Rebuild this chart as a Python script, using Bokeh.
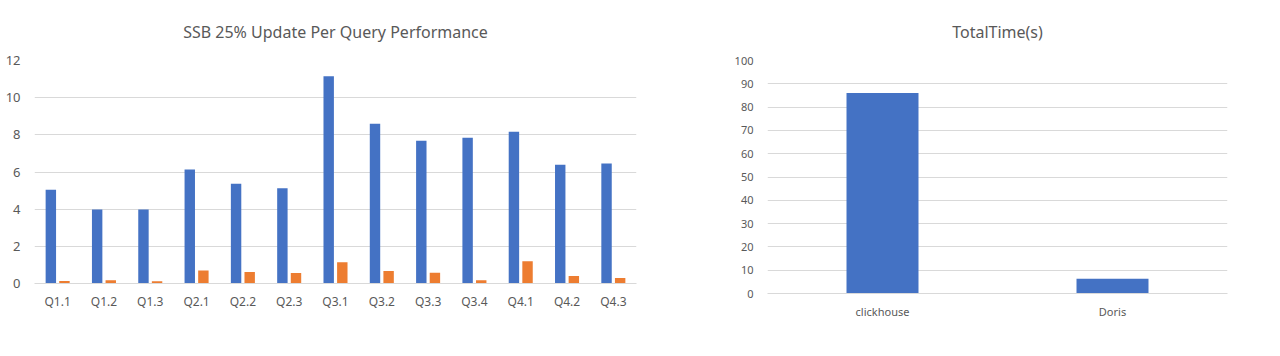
from bokeh.plotting import figure
from bokeh.models import FactorRange, Range1d, Legend, LegendItem, Label
from bokeh.transform import dodge
from bokeh.layouts import row
from bokeh.embed import file_html
from bokeh.resources import INLINE

queries = ["Q1.1", "Q1.2", "Q1.3", "Q2.1", "Q2.2", "Q2.3", "Q3.1", "Q3.2",
           "Q3.3", "Q3.4", "Q4.1", "Q4.2", "Q4.3"]
clickhouse = [5.04, 3.98, 3.98, 6.14, 5.37, 5.13, 11.15, 8.59, 7.68, 7.84, 8.16, 6.39, 6.46]
doris = [0.13, 0.17, 0.12, 0.70, 0.62, 0.57, 1.15, 0.67, 0.58, 0.18, 1.20, 0.41, 0.29]

total_systems = ["clickhouse", "Doris"]
total_time = [86.0, 6.3]

BLUE = "#4472C4"
ORANGE = "#ED7D31"
GRID = "#D9D9D9"
TXT = "#595959"
FONT = "Noto Sans"
CJK = "Noto Sans CJK SC"

# ---- left chart ----
p1 = figure(width=660, height=356, frame_width=602, frame_height=225,
            x_range=FactorRange(*queries), y_range=Range1d(0, 12),
            output_backend="svg", toolbar_location=None,
            width_policy="fixed", height_policy="fixed",
            min_border_left=34, min_border_right=24, min_border_top=58, min_border_bottom=73)
p1.title.text = "SSB 25% Update Per Query Performance"
p1.title.align = "center"
p1.title.text_font = FONT
p1.title.text_font_size = "16px"
p1.title.text_font_style = "normal"
p1.title.text_color = TXT
p1.title.standoff = 36

src = dict(q=queries, ch=clickhouse, dr=doris)
r1 = p1.vbar(x=dodge("q", -0.147, range=p1.x_range), top="ch", width=0.225, source=src,
             fill_color=BLUE, line_color=None)
r2 = p1.vbar(x=dodge("q", 0.147, range=p1.x_range), top="dr", width=0.225, source=src,
             fill_color=ORANGE, line_color=None)

p1.yaxis.ticker = [0, 2, 4, 6, 8, 10, 12]

legend = Legend(items=[LegendItem(label="clickhouse", renderers=[r1]),
                       LegendItem(label="Doris", renderers=[r2])],
                orientation="horizontal", location=(230, -61),
                label_text_font=FONT, label_text_font_size="11px", label_text_color=TXT,
                glyph_width=9, glyph_height=9, label_standoff=4, spacing=6,
                padding=4, margin=0, border_line_color=None, background_fill_alpha=0)
p1.add_layout(legend)

# ---- right chart ----
p2 = figure(width=620, height=356, frame_width=460, frame_height=235,
            x_range=FactorRange(*total_systems), y_range=Range1d(0, 100),
            output_backend="svg", toolbar_location=None,
            width_policy="fixed", height_policy="fixed",
            min_border_left=107, min_border_right=53, min_border_top=58, min_border_bottom=63)
p2.title.text = "TotalTime(s)"
p2.title.align = "center"
p2.title.text_font = FONT
p2.title.text_font_size = "16px"
p2.title.text_font_style = "normal"
p2.title.text_color = TXT
p2.title.standoff = 36

p2.vbar(x=total_systems, top=total_time, width=0.313, fill_color=BLUE, line_color=None)
p2.yaxis.ticker = list(range(0, 101, 10))

for p, ysize, xsize in ((p1, "13px", "12px"), (p2, "11px", "11px")):
    p.outline_line_color = None
    p.xgrid.grid_line_color = None
    p.ygrid.grid_line_color = GRID
    p.ygrid.grid_line_width = 1
    p.yaxis.axis_line_color = None
    p.yaxis.major_tick_line_color = None
    p.yaxis.minor_tick_line_color = None
    p.yaxis.major_label_text_font = FONT
    p.yaxis.major_label_text_font_size = ysize
    p.yaxis.major_label_text_color = TXT
    p.yaxis.major_label_standoff = 8
    p.xaxis.axis_line_color = GRID
    p.xaxis.major_tick_line_color = None
    p.xaxis.minor_tick_line_color = None
    p.xaxis.major_label_text_font = FONT
    p.xaxis.major_label_text_font_size = xsize
    p.xaxis.major_label_text_color = TXT

p1.xaxis.major_label_standoff = 3
p2.xaxis.major_label_standoff = 4

wm_shadow = Label(x=206, y=-37, x_units="screen", y_units="screen",
                  text="掘金技术社区 @ SelectDB", text_font=CJK,
                  text_font_size="20px", text_color="#8c8c8c", text_baseline="middle")
wm = Label(x=205, y=-36, x_units="screen", y_units="screen",
           text="掘金技术社区 @ SelectDB", text_font=CJK,
           text_font_size="20px", text_color="#eeeeee", text_baseline="middle")
p2.add_layout(wm_shadow)
p2.add_layout(wm)

layout = row(p1, p2, sizing_mode="fixed")
open("out.html", "w").write(file_html(layout, INLINE))
